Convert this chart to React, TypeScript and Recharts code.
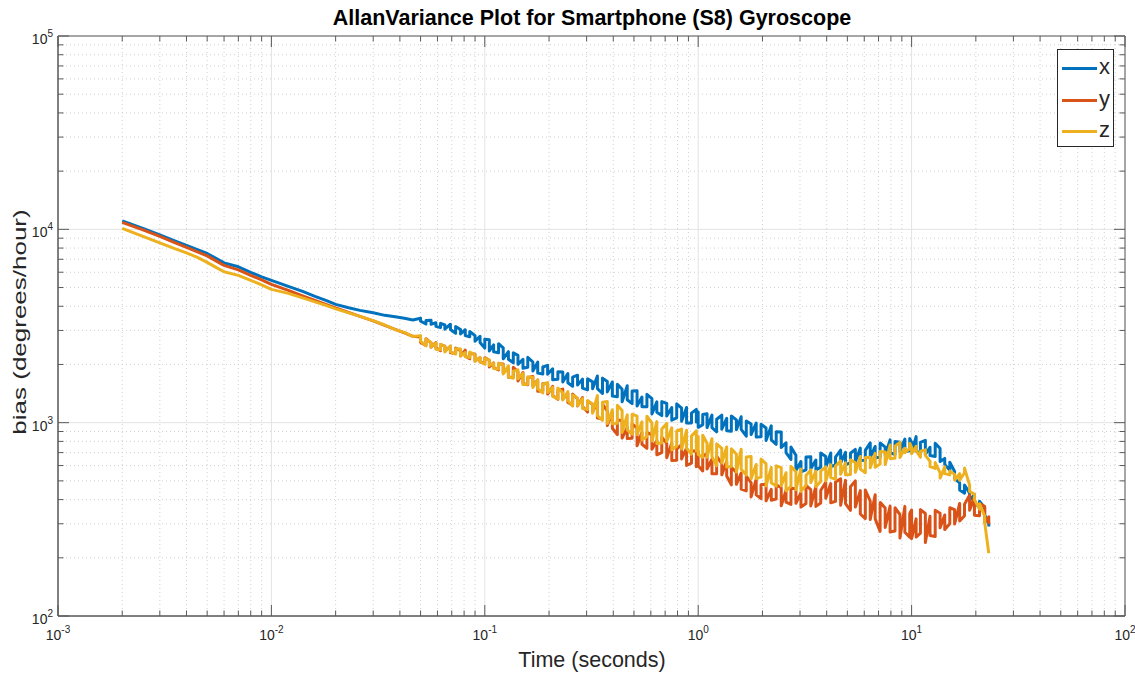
import React from 'react';
import { LineChart, Line, XAxis, YAxis, CartesianGrid, Legend, ReferenceArea } from 'recharts';

// averaging time (s): smooth part, then the noisy part where each bin has a high and a low reading
const tauSmooth = [
  0.002, 0.0025, 0.003, 0.0035, 0.004, 0.0045, 0.005, 0.0055, 0.006, 0.007, 0.008, 0.009, 0.01,
  0.012, 0.014, 0.016, 0.018, 0.02, 0.023, 0.026, 0.03, 0.034, 0.038, 0.042, 0.046,
];
const tauNoisy = [
  0.05, 0.053, 0.056, 0.059, 0.062, 0.065, 0.069, 0.073, 0.077, 0.081, 0.085, 0.09, 0.095,
  0.1, 0.105, 0.11, 0.116, 0.122, 0.129, 0.136, 0.143, 0.151, 0.159, 0.168, 0.177, 0.187, 0.197,
  0.208, 0.22, 0.232, 0.245, 0.258, 0.272, 0.287, 0.303, 0.32, 0.337, 0.356, 0.375, 0.396, 0.418,
  0.44, 0.465, 0.49, 0.517, 0.545, 0.575, 0.607, 0.64, 0.675, 0.712, 0.752, 0.793, 0.836, 0.882, 0.93, 0.98,
  1, 1.05, 1.1, 1.16, 1.22, 1.29, 1.36, 1.43, 1.51, 1.59, 1.68, 1.77, 1.87, 1.97, 2.08, 2.2, 2.32,
  2.45, 2.58, 2.72, 2.87, 3.03, 3.2, 3.37, 3.56, 3.75, 3.96, 4.18, 4.4, 4.65, 4.9, 5.17, 5.45, 5.75,
  6.07, 6.4, 6.75, 7.12, 7.52, 7.93, 8.36, 8.82, 9.3, 9.8,
  10, 10.5, 11, 11.6, 12.2, 12.9, 13.6, 14.3, 15.1, 15.9, 16.8, 17.7, 18.7, 19.7, 20.8, 22, 23,
];

// bias (degrees/hour), x axis
const xSmooth = [
  11050, 10120, 9360, 8750, 8265, 7860, 7500, 7080, 6710, 6400, 5990, 5680, 5450,
  5070, 4780, 4500, 4290, 4090, 3930, 3810, 3700, 3590, 3530, 3465, 3400,
];
const xUpper = [
  3465, 3380, 3383, 3290, 3265, 3200, 3230, 3140, 3035, 3025, 2960, 2820, 2800,
  2705, 2685, 2525, 2560, 2440, 2330, 2300, 2230, 2125, 2177, 2060, 2055, 1940, 1980, 1900, 1836,
  1830, 1794, 1720, 1760, 1680, 1685, 1625, 1744, 1700, 1632, 1623, 1578, 1488, 1552, 1457, 1463,
  1357, 1401, 1331, 1281, 1286, 1259, 1198, 1251, 1188, 1198, 1121, 1172,
  1135, 1103, 1113, 1094, 1042, 1093, 1053, 1083, 1034, 1074, 1021, 985, 994, 982, 939, 963, 897,
  894, 787, 749, 678, 630, 665, 667, 641, 696, 669, 697, 663, 721, 703, 695, 727, 739, 719, 786,
  753, 786, 748, 815, 799, 791, 823, 827,
  793, 847, 790, 810, 746, 783, 736, 653, 624, 560, 488, 476, 432, 424, 392, 363, 300,
];
const xLower = [
  3350, 3240, 3226, 3150, 3100, 3045, 3030, 2900, 2875, 2820, 2780, 2640, 2600,
  2430, 2350, 2325, 2300, 2140, 2130, 2040, 2003, 1910, 1933, 1850, 1804, 1787, 1778, 1665, 1678,
  1623, 1610, 1543, 1564, 1510, 1478, 1496, 1500, 1416, 1442, 1375, 1360, 1283, 1314, 1254, 1218,
  1208, 1207, 1108, 1131, 1088, 1082, 1030, 1058, 1018, 995, 997, 1009,
  946, 975, 943, 942, 897, 925, 907, 902, 920, 924, 851, 868, 842, 846, 808, 815, 773,
  745, 700, 645, 566, 557, 570, 577, 569, 589, 587, 592, 604, 619, 605, 622, 627, 640, 637, 662,
  659, 663, 678, 700, 684, 711, 707, 716,
  705, 712, 695, 685, 677, 668, 630, 607, 567, 514, 448, 432, 397, 381, 366, 333, 290,
];

// y axis
const ySmooth = [
  10870, 9940, 9200, 8566, 8070, 7650, 7290, 6870, 6510, 6170, 5780, 5480, 5194,
  4836, 4530, 4293, 4093, 3925, 3721, 3548, 3362, 3188, 3040, 2915, 2796,
];
const yUpper = [
  2776, 2717, 2584, 2597, 2536, 2485, 2470, 2432, 2360, 2372, 2286, 2259, 2164,
  2169, 2101, 2041, 2015, 2012, 1910, 1935, 1832, 1817, 1707, 1732, 1658, 1595, 1584, 1541, 1467,
  1492, 1414, 1406, 1325, 1349, 1292, 1244, 1279, 1246, 1148, 1133, 1031, 1026, 945, 986, 936,
  891, 891, 864, 808, 841, 782, 786, 729, 771, 738, 711, 716,
  711, 668, 696, 648, 671, 614, 631, 588, 553, 548, 528, 490, 511, 477, 482, 452, 477,
  461, 448, 458, 455, 434, 474, 450, 468, 446, 492, 484, 493, 512, 503, 466, 500, 445, 448, 393,
  424, 387, 362, 370, 363, 335, 369, 339,
  353, 318, 355, 339, 328, 352, 340, 333, 363, 355, 382, 378, 421, 412, 381, 369, 326,
];
const yLower = [
  2603, 2512, 2455, 2436, 2358, 2370, 2300, 2281, 2214, 2208, 2143, 2089, 2058,
  2035, 1940, 1933, 1876, 1808, 1716, 1718, 1645, 1593, 1571, 1556, 1455, 1458, 1406, 1384, 1319,
  1327, 1271, 1233, 1219, 1212, 1134, 1138, 1057, 1049, 968, 936, 868, 832, 827, 831, 759,
  773, 737, 728, 682, 700, 659, 637, 640, 649, 601, 617, 592,
  599, 563, 576, 545, 545, 537, 530, 477, 480, 453, 444, 413, 423, 405, 394, 397, 403,
  372, 388, 378, 383, 366, 382, 371, 369, 384, 406, 385, 392, 374, 381, 352, 366, 337, 319, 316,
  318, 274, 287, 272, 275, 253, 271, 256,
  251, 256, 268, 240, 261, 258, 286, 280, 300, 299, 310, 330, 352, 332, 330, 305, 298,
];

// z axis
const zSmooth = [
  10120, 9200, 8515, 7975, 7560, 7165, 6750, 6360, 6030, 5780, 5447, 5165, 4893,
  4666, 4422, 4217, 4045, 3880, 3700, 3548, 3370, 3200, 3030, 2930, 2790,
];
const zUpper = [
  2820, 2698, 2600, 2580, 2545, 2476, 2497, 2415, 2404, 2305, 2320, 2245, 2180,
  2154, 2108, 2030, 2033, 1990, 1967, 1845, 1876, 1795, 1728, 1711, 1668, 1586, 1612, 1523, 1512,
  1425, 1449, 1390, 1341, 1333, 1301, 1247, 1380, 1274, 1288, 1165, 1230, 1156, 1098, 1106, 1080,
  1009, 1080, 996, 1013, 928, 991, 940, 906, 926, 913, 852, 907,
  847, 860, 782, 826, 777, 736, 748, 733, 687, 728, 664, 668, 608, 648, 612, 586, 598,
  585, 551, 595, 558, 575, 533, 570, 561, 562, 591, 605, 597, 634, 620, 643, 620, 669, 661, 662,
  694, 710, 706, 766, 756, 790, 737, 783,
  748, 755, 711, 723, 631, 622, 550, 591, 563, 540, 545, 582, 475, 426, 381, 328, 211,
];
const zLower = [
  2640, 2494, 2465, 2396, 2380, 2322, 2325, 2264, 2222, 2190, 2174, 2073, 2066,
  2005, 1977, 1908, 1897, 1787, 1726, 1697, 1685, 1574, 1580, 1519, 1499, 1425, 1431, 1368, 1327,
  1310, 1301, 1219, 1226, 1183, 1169, 1120, 1087, 1028, 991, 986, 993, 890, 918, 872, 868,
  814, 849, 803, 780, 785, 800, 723, 757, 730, 737, 687, 714,
  684, 662, 662, 667, 599, 618, 590, 593, 555, 574, 536, 513, 514, 523, 471, 489, 470,
  472, 444, 469, 450, 441, 474, 490, 467, 496, 499, 520, 510, 541, 537, 539, 554, 575, 551, 584,
  588, 612, 607, 652, 654, 660, 700, 735,
  690, 717, 662, 678, 592, 580, 517, 545, 537, 505, 504, 551, 441, 400, 357, 305, 211,
];

const xDecades = [-3, -2, -1, 0, 1, 2];
const yDecades = [2, 3, 4, 5];
const minorSteps = [2, 3, 4, 5, 6, 7, 8, 9];

// smooth values, then each noisy bin drawn as a high/low pair (order varies so it reads as noise)
const buildSeries = (smooth: number[], upper: number[], lower: number[]) => [
  ...tauSmooth.map((t, i) => ({ tau: t, v: smooth[i] })),
  ...tauNoisy.flatMap((t, i) =>
    i % 3 !== 1
      ? [{ tau: t, v: upper[i] }, { tau: t, v: lower[i] }]
      : [{ tau: t, v: lower[i] }, { tau: t, v: upper[i] }]
  ),
];

const series = [
  { key: 'x', color: '#0072BD', data: buildSeries(xSmooth, xUpper, xLower) },
  { key: 'y', color: '#D95319', data: buildSeries(ySmooth, yUpper, yLower) },
  { key: 'z', color: '#EDB120', data: buildSeries(zSmooth, zUpper, zLower) },
];

const W = 1135;
const H = 675;
const MARGIN = { top: 36, right: 10, bottom: 58, left: 57 };
const PLOT_W = W - MARGIN.left - MARGIN.right - 1;
const PLOT_H = H - MARGIN.top - MARGIN.bottom - 1;

const AXIS = '#5a5a5a';
const TEXT = '#262626';
const FONT = '"Liberation Sans", Arial, Helvetica, sans-serif';

const majorVals = (decs: number[]) => decs.map((d) => Math.pow(10, d));
const minorVals = (decs: number[]) =>
  decs.slice(0, -1).flatMap((d) => minorSteps.map((m) => m * Math.pow(10, d)));

const xMajor = majorVals(xDecades);
const xMinor = minorVals(xDecades);
const yMajor = majorVals(yDecades);
const yMinor = minorVals(yDecades);
const xTicks = [...xMajor, ...xMinor].sort((a, b) => a - b);
const yTicks = [...yMajor, ...yMinor].sort((a, b) => a - b);

const isMajor = (v: number) => {
  const e = Math.log10(v);
  return Math.abs(e - Math.round(e)) < 1e-9;
};

const XTick = (props: any) => {
  const { x, y, payload } = props;
  const v = payload.value;
  const major = isMajor(v);
  const len = major ? 11 : 5.5;
  return (
    <g>
      <line x1={x} x2={x} y1={y} y2={y - len} stroke={AXIS} />
      <line x1={x} x2={x} y1={y - PLOT_H} y2={y - PLOT_H + len} stroke={AXIS} />
      {major && (
        <text x={x} y={y + 24} textAnchor="middle" fontSize={14} fill={TEXT} fontFamily={FONT}>
          10
          <tspan dy={-7} fontSize={10}>
            {Math.round(Math.log10(v))}
          </tspan>
        </text>
      )}
    </g>
  );
};

const YTick = (props: any) => {
  const { x, y, payload } = props;
  const v = payload.value;
  const major = isMajor(v);
  const len = major ? 11 : 5.5;
  return (
    <g>
      <line x1={x} x2={x + len} y1={y} y2={y} stroke={AXIS} />
      <line x1={x + PLOT_W} x2={x + PLOT_W - len} y1={y} y2={y} stroke={AXIS} />
      {major && (
        <text x={x - 5} y={y + 8} textAnchor="end" fontSize={14} fill={TEXT} fontFamily={FONT}>
          10
          <tspan dy={-7} fontSize={10}>
            {Math.round(Math.log10(v))}
          </tspan>
        </text>
      )}
    </g>
  );
};

const LegendBox = (props: any) => {
  const payload = props.payload || [];
  return (
    <div
      style={{
        width: 57,
        height: 98,
        boxSizing: 'border-box',
        border: `1px solid ${TEXT}`,
        background: '#fff',
        position: 'relative',
        fontFamily: FONT,
      }}
    >
      {payload.map((p: any, i: number) => (
        <div key={p.value} style={{ position: 'absolute', left: 0, top: 5 + i * 31.5, height: 26, width: 55 }}>
          <div style={{ position: 'absolute', left: 4, top: 12, width: 35, height: 3, background: p.color }} />
          <div style={{ position: 'absolute', left: 41, top: 0, fontSize: 22, lineHeight: '24px', color: TEXT }}>
            {p.value}
          </div>
        </div>
      ))}
    </div>
  );
};

export default function App() {
  return (
    <div style={{ position: 'absolute', left: 0, top: 0, width: W, height: H, background: '#fff' }}>
      <LineChart width={W} height={H} margin={MARGIN}>
        <CartesianGrid
          horizontalValues={yMinor}
          verticalValues={xMinor}
          stroke="#d0d0d0"
          strokeDasharray="1 3"
        />
        <CartesianGrid horizontalValues={yMajor} verticalValues={xMajor} stroke="#e3e3e3" />
        <XAxis
          dataKey="tau"
          type="number"
          scale="log"
          domain={[0.001, 100]}
          ticks={xTicks}
          interval={0}
          height={1}
          tickSize={0}
          tickMargin={0}
          tickLine={false}
          axisLine={{ stroke: AXIS }}
          tick={<XTick />}
          allowDataOverflow
        />
        <YAxis
          type="number"
          scale="log"
          domain={[100, 100000]}
          ticks={yTicks}
          interval={0}
          width={1}
          tickSize={0}
          tickMargin={0}
          tickLine={false}
          axisLine={{ stroke: AXIS }}
          tick={<YTick />}
          allowDataOverflow
        />
        <ReferenceArea x1={0.001} x2={100} y1={100} y2={100000} fill="none" stroke={AXIS} strokeWidth={1} />
        {series.map((s) => (
          <Line
            key={s.key}
            data={s.data}
            dataKey="v"
            name={s.key}
            type="linear"
            stroke={s.color}
            strokeWidth={3}
            strokeLinejoin="round"
            dot={false}
            isAnimationActive={false}
          />
        ))}
        <Legend
          layout="vertical"
          align="center"
          verticalAlign="middle"
          wrapperStyle={{ top: 49, left: 1057, width: 57, height: 98 }}
          content={<LegendBox />}
        />
      </LineChart>
      <svg width={W} height={H} style={{ position: 'absolute', left: 0, top: 0, pointerEvents: 'none' }}>
        <text x={592} y={25} textAnchor="middle" fontSize={21.5} fontWeight="bold" fill="#000" fontFamily={FONT}>
          AllanVariance Plot for Smartphone (S8) Gyroscope
        </text>
        <text x={592} y={667} textAnchor="middle" fontSize={21.5} fill={TEXT} fontFamily={FONT}>
          Time (seconds)
        </text>
        <text
          transform="translate(26,322) rotate(-90) scale(1,0.72)"
          textAnchor="middle"
          fontSize={26}
          fill={TEXT}
          fontFamily={FONT}
        >
          bias (degrees/hour)
        </text>
      </svg>
    </div>
  );
}
